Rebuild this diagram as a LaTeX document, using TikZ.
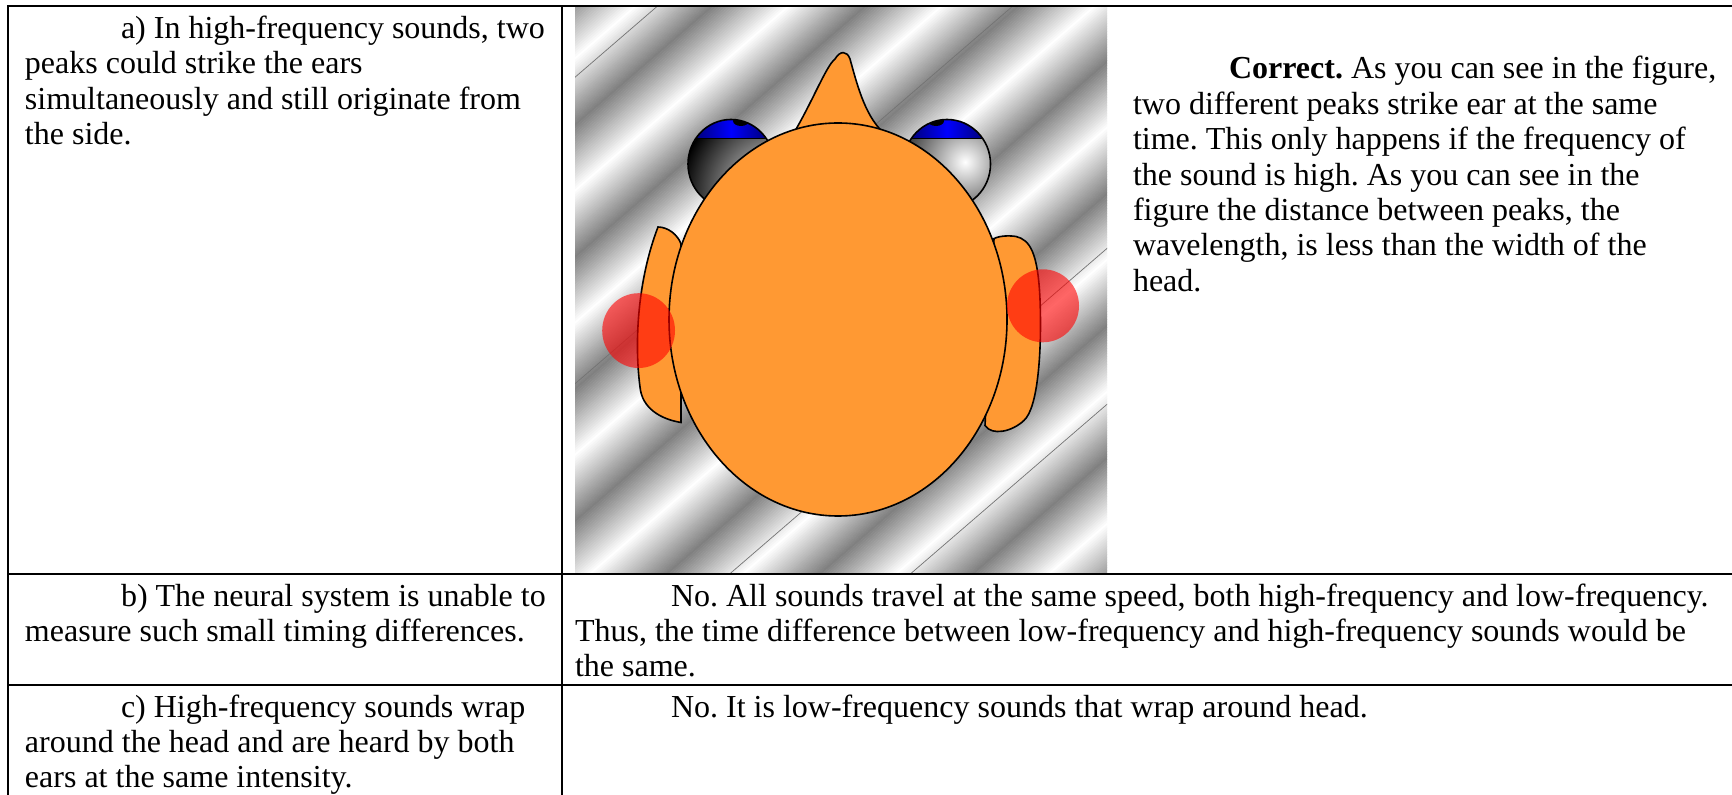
\documentclass[tikz,border=0pt]{standalone}
\usepackage{fontspec}
\setmainfont{Liberation Serif}
\definecolor{skin}{RGB}{255,153,51}
\definecolor{iris}{RGB}{0,0,255}
\begin{document}
\frenchspacing
\begin{tikzpicture}[x=0.5pt,y=-0.5pt,
  txt/.style={anchor=base west, inner sep=0pt, outer sep=0pt, font=\fontsize{16}{19}\selectfont},
  rule/.style={line width=1pt},
  skinpart/.style={fill=skin, draw=black, line width=0.8pt},
  crest/.style={draw=black!55, line width=0.35pt},
  spot/.style={fill=red, fill opacity=0.6, draw=none}]
\useasboundingbox (0,0) rectangle (1732,795);
\fill[white] (0,0) rectangle (1732,795);

% ---------- picture cell: striped wave field ----------
\begin{scope}
  \clip (575,7) rectangle (1107,573);
  \begin{scope}[shift={(841,290)}, rotate=40.8]
    \foreach \i in {0,...,449} {
      \pgfmathsetmacro\p{mod(\i,50)/50}
      \pgfmathsetmacro\g{50+50*abs(1-2*\p)}
      \fill[white!\g!black] (-560,-450+2*\i) rectangle (560,-447.6+2*\i);
    }
  \end{scope}
  % faint wave-front lines
  \coordinate (w1a) at (560,90.2);  \coordinate (w1b) at (1120,-392.9);
  \coordinate (w2a) at (560,396.7); \coordinate (w2b) at (1120,-86.4);
  \coordinate (w3a) at (560,720.3); \coordinate (w3b) at (1120,237.2);
  \coordinate (w4a) at (560,876.2); \coordinate (w4b) at (1120,393.1);
  \draw[crest] (w1a) -- (w1b);
  \draw[crest] (w2a) -- (w2b);
  \draw[crest] (w3a) -- (w3b);
  \draw[crest] (w4a) -- (w4b);
\end{scope}

% eyes
\begin{scope}
  \clip (731,164) ellipse (43 and 44.5);
  \shade[inner color=white, outer color=black] (775,192) circle (95);
  \shade[left color=iris!35!black, right color=iris!35!black, middle color=iris] (686,110) rectangle (776,138.5);
  \fill[black] (741,121) ellipse (8 and 5);
  \draw[line width=0.6pt] (680,138.5) -- (790,138.5);
\end{scope}
\draw[line width=0.8pt] (731,164) ellipse (43 and 44.5);
\begin{scope}
  \clip (947,164) ellipse (43.5 and 44.5);
  \shade[inner color=white, outer color=black!75] (965,162) circle (60);
  \shade[left color=iris!35!black, right color=iris!35!black, middle color=iris] (902,110) rectangle (992,138.5);
  \fill[black] (936,121) ellipse (8 and 5);
  \draw[line width=0.6pt] (895,138.5) -- (1000,138.5);
\end{scope}
\draw[line width=0.8pt] (947,164) ellipse (43.5 and 44.5);

% nose
\draw[skinpart] (792,136) .. controls (812,103) and (826,66) .. (835,59)
  .. controls (840,50.5) and (847,50.5) .. (850,59)
  .. controls (858,88) and (866,119) .. (887,136) -- cycle;

% ears
\draw[skinpart] (658,227) .. controls (668,227) and (678,235) .. (681,244)
  -- (681,422.5) .. controls (660,419) and (642,408) .. (640,387)
  .. controls (634,341) and (638,279) .. (658,227) -- cycle;
\draw[skinpart] (994,238.6) .. controls (1000,235.5) and (1010,235.5) .. (1016,236.5)
  .. controls (1030,239.7) and (1038,253) .. (1040,299.6)
  .. controls (1042,351) and (1038,408) .. (1024,420.4)
  .. controls (1012,431.8) and (992,436) .. (985,425.6) -- cycle;

% head
\draw[skinpart] (838,319.5) ellipse (169 and 196.5);

% sound peaks arriving at the ears
\fill[spot] (638.6,330.6) ellipse (36.4 and 37.4);
\fill[spot] (1043,305.8) ellipse (36 and 36.5);

% ---------- table rules ----------
\draw[rule] (8,6) -- (1732,6);
\draw[rule] (8,574) -- (1732,574);
\draw[rule] (8,685) -- (1732,685);
\draw[rule] (8,5.5) -- (8,795);
\draw[rule] (562,5.5) -- (562,795);

% ---------- row a ----------
\node[txt] (qa1) at (121,38.5) {a) In high-frequency sounds, two};
\node[txt] (qa2) at (25,73.9) {peaks could strike the ears};
\node[txt] (qa3) at (25,109.3) {simultaneously and still originate from};
\node[txt] (qa4) at (25,144.7) {the side.};

\node[txt] (fa1) at (1229,79) {\textbf{Correct.} As you can see in the figure,};
\node[txt] (fa2) at (1133,114.4) {two different peaks strike ear at the same};
\node[txt] (fa3) at (1133,149.8) {time. This only happens if the frequency of};
\node[txt] (fa4) at (1133,185.2) {the sound is high. As you can see in the};
\node[txt] (fa5) at (1133,220.6) {figure the distance between peaks, the};
\node[txt] (fa6) at (1133,256) {wavelength, is less than the width of the};
\node[txt] (fa7) at (1133,291.4) {head.};

% ---------- row b ----------
\node[txt] (qb1) at (121,606) {b) The neural system is unable to};
\node[txt] (qb2) at (25,641) {measure such small timing differences.};
\node[txt] (fb1) at (671,606) {No. All sounds travel at the same speed, both high-frequency and low-frequency.};
\node[txt] (fb2) at (575,641) {Thus, the time difference between low-frequency and high-frequency sounds would be};
\node[txt] (fb3) at (575,676) {the same.};

% ---------- row c ----------
\node[txt] (qc1) at (121,717) {c) High-frequency sounds wrap};
\node[txt] (qc2) at (25,752.4) {around the head and are heard by both};
\node[txt] (qc3) at (25,787.8) {ears at the same intensity.};
\node[txt] (fc1) at (671,717) {No. It is low-frequency sounds that wrap around head.};
\end{tikzpicture}
\end{document}
